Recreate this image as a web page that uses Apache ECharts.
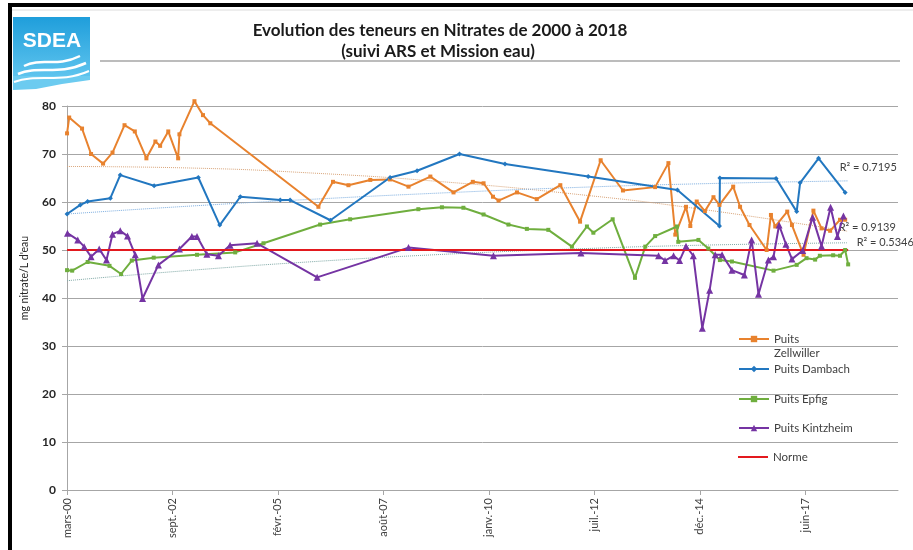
<!DOCTYPE html>
<html>
<head>
<meta charset="utf-8">
<script src="https://cdn.jsdelivr.net/npm/echarts@6/dist/echarts.min.js"></script>
<style>
html, body { margin: 0; padding: 0; background: #fff; }
#chart { width: 913px; height: 550px; }
</style>
</head>
<body>
<div id="chart"></div>
<script>
// dates are decimal years
const zellwillerDates = [2000.22,2000.27,2000.57,2000.78,2001.06,2001.28,2001.56,2001.80,2002.07,2002.28,
  2002.39,2002.58,2002.81,2002.84,2003.19,2003.39,2003.56,2006.08,2006.42,2006.78,
  2007.29,2007.75,2008.18,2008.69,2009.23,2009.68,2009.93,2010.15,2010.28,2010.71,
  2011.17,2011.72,2012.18,2012.66,2013.18,2013.93,2014.24,2014.40,2014.65,2014.75,
  2014.90,2015.09,2015.29,2015.43,2015.75,2015.91,2016.13,2016.53,2016.63,2016.73,
  2017.01,2017.12,2017.39,2017.62,2017.81,2018.01,2018.24,2018.36];
const zellwillerValues = [74.3,77.6,75.3,70,68,70.3,76,74.7,69.1,72.6,
  71.7,74.7,69.1,74.1,81,78.1,76.4,59,64.2,63.5,
  64.6,64.7,63.2,65.3,62,64.2,63.9,61.1,60.3,62,
  60.6,63.5,55.9,68.7,62.4,63.1,68.1,53.2,59,55,
  60.1,58.1,61,59.4,63.2,59,55.2,50,57.3,54.9,
  58,55.2,49,58.2,54.5,54,56.3,56.3];

const dambachDates = [2000.22,2000.53,2000.70,2001.23,2001.46,2002.25,2003.28,2003.78,2004.26,2005.19,
  2005.42,2006.36,2007.75,2008.38,2009.37,2010.43,2012.37,2014.45,2015.43,2015.44,
  2016.75,2017.23,2017.31,2017.74,2018.36];
const dambachValues = [57.5,59.4,60.1,60.8,65.6,63.4,65.1,55.2,61.1,60.4,
  60.4,56.2,65.1,66.5,70,67.9,65.3,62.5,55,65,
  64.9,58,64,69.1,62];

const epfigDates = [2000.22,2000.34,2000.70,2001.21,2001.48,2001.73,2002.24,2003.25,2004.14,2004.80,
  2006.12,2006.82,2008.41,2008.96,2009.46,2009.93,2010.51,2010.94,2011.44,2011.99,
  2012.34,2012.49,2012.94,2013.46,2013.70,2013.93,2014.44,2014.47,2014.94,2015.17,
  2015.44,2015.72,2016.69,2017.23,2017.46,2017.66,2017.77,2018.08,2018.24,2018.36,
  2018.43];
const epfigValues = [45.8,45.7,47.5,46.7,45,47.8,48.4,49,49.5,51.4,
  55.3,56.4,58.5,58.9,58.8,57.4,55.3,54.4,54.2,50.7,
  54.9,53.6,56.4,44.2,50.7,52.9,54.9,51.7,52.1,50.3,
  47.9,47.6,45.7,46.9,48.3,48,48.8,48.9,48.8,50,
  47];

const kintzheimDates = [2000.23,2000.47,2000.62,2000.78,2000.97,2001.14,2001.28,2001.46,2001.63,2001.81,
  2001.98,2002.35,2002.84,2003.13,2003.25,2003.48,2003.75,2004.02,2004.65,2006.05,
  2008.18,2010.16,2012.20,2014.01,2014.16,2014.36,2014.50,2014.65,2014.82,2015.03,
  2015.20,2015.33,2015.49,2015.72,2016.01,2016.18,2016.34,2016.57,2016.69,2016.82,
  2016.98,2017.12,2017.37,2017.60,2017.81,2018.02,2018.18,2018.32];
const kintzheimValues = [53.5,52.1,50.7,48.6,50.2,47.9,53.3,54,52.9,49,
  39.9,46.9,50.2,52.8,52.8,49.1,48.8,51,51.4,44.3,
  50.5,48.8,49.4,48.8,47.8,48.8,47.8,50.8,48.8,33.7,
  41.6,49,49,45.8,44.8,52.1,40.8,47.9,48.6,55.2,
  51.2,48.1,49.9,56.8,50.8,58.9,52.8,57.1];

const normeDates = [2000.22, 2018.43];
const normeValues = [50, 50];

// polynomial trend curves as drawn in the picture
const trendDates = [2000.22, 2003, 2006, 2009, 2012, 2015, 2018.42];
const zellwillerTrend = [67.4, 67.1, 66.0, 64.2, 61.7, 58.5, 53.9];
const dambachTrend = [57.5, 59.1, 60.6, 61.9, 63.0, 63.8, 64.4];
const epfigTrend = [43.6, 45.7, 47.6, 49.1, 50.2, 51.0, 51.5];

const xTickLabels = ['mars-00', 'sept.-02', 'févr.-05', 'août-07', 'janv.-10', 'juil.-12', 'déc.-14', 'juin-17'];

const START_YEAR = 2000.219; // 21 mars 2000
const TICK_DAYS = 898;
const toDays = y => (y - START_YEAR) * 365.25;
const pairs = (dates, values) => dates.map((d, i) => [toDays(d), values[i]]);

const FONT = 'Lato';
const TEXT = '#404040';

const mainSeries = (name, dates, values, color, symbol, size) => ({
  name: name,
  type: 'line',
  data: pairs(dates, values),
  symbol: symbol,
  symbolSize: size,
  clip: false,
  lineStyle: { color: color, width: 2 },
  itemStyle: { color: color },
  z: 3
});

const trendSeries = (dates, values, color, label, offset) => ({
  type: 'line',
  data: pairs(dates, values),
  smooth: true,
  symbol: 'none',
  silent: true,
  lineStyle: { color: color, width: 1, type: 'dotted' },
  endLabel: { show: true, formatter: label, color: TEXT, fontFamily: FONT, fontSize: 11, distance: 0, offset: offset },
  z: 2
});

const legendItem = (name, top, text, icon, h) => ({
  left: 738,
  top: top,
  padding: 0,
  data: [icon ? { name: name, icon: icon } : name],
  itemWidth: 30,
  itemHeight: h || 8,
  selectedMode: false,
  formatter: text,
  textStyle: { color: TEXT, fontFamily: FONT, fontSize: 11.5, lineHeight: 14 }
});

const colors = { orange: '#E8822E', blue: '#2277C0', green: '#6FAE3E', purple: '#7534A3', red: '#E3191E' };

const chart = echarts.init(document.getElementById('chart'));
chart.setOption({
  animation: false,
  backgroundColor: '#fff',
  grid: { left: 67, right: 15, top: 106, bottom: 60 },
  xAxis: {
    type: 'value',
    min: 0,
    max: 7076,
    interval: TICK_DAYS,
    axisLine: { lineStyle: { color: '#a6a6a6' } },
    axisTick: { show: true, length: 5, lineStyle: { color: '#a6a6a6' },
      customValues: xTickLabels.map((_, i) => i * TICK_DAYS) },
    axisLabel: { rotate: 90, color: TEXT, fontFamily: FONT, fontSize: 11, margin: 8,
      customValues: xTickLabels.map((_, i) => i * TICK_DAYS),
      formatter: v => xTickLabels[Math.round(v / TICK_DAYS)] },
    splitLine: { show: false }
  },
  yAxis: {
    type: 'value',
    min: 0,
    max: 80,
    interval: 10,
    name: "mg nitrate/L d'eau",
    nameLocation: 'middle',
    nameRotate: 90,
    nameGap: 37,
    nameTextStyle: { color: '#262626', fontFamily: FONT, fontSize: 10.5, padding: [0, 0, 0, 40] },
    axisLine: { show: true, lineStyle: { color: '#a6a6a6' } },
    axisTick: { show: true, length: 5, lineStyle: { color: '#a6a6a6' } },
    axisLabel: { color: '#262626', fontFamily: FONT, fontSize: 12, fontWeight: 'bold', margin: 11 },
    splitLine: { lineStyle: { color: '#a6a6a6' } }
  },
  legend: [
    legendItem('Puits Zellwiller', 318, ' \nPuits\nZellwiller'),
    legendItem('Puits Dambach', 362),
    legendItem('Puits Epfig', 392),
    legendItem('Puits Kintzheim', 421),
    legendItem('Norme', 450, null, 'rect', 2)
  ],
  series: [
    trendSeries(trendDates, zellwillerTrend, '#d9a57a', 'R² = 0.9139', [-9, -4]),
    trendSeries(trendDates, dambachTrend, '#7daee0', 'R² = 0.7195', [-8, -13]),
    trendSeries(trendDates, epfigTrend, '#7fa9a6', 'R² = 0.5346', [9, 0]),
    mainSeries('Puits Zellwiller', zellwillerDates, zellwillerValues, colors.orange, 'rect', 4),
    mainSeries('Puits Dambach', dambachDates, dambachValues, colors.blue, 'diamond', 5),
    mainSeries('Puits Epfig', epfigDates, epfigValues, colors.green, 'rect', 4),
    mainSeries('Puits Kintzheim', kintzheimDates, kintzheimValues, colors.purple, 'triangle', 7),
    mainSeries('Norme', normeDates, normeValues, colors.red, 'none', 0)
  ],
  graphic: [
    // frame
    { type: 'rect', shape: { x: 10, y: 5, width: 930, height: 570 }, style: { fill: 'none', stroke: '#000', lineWidth: 4 }, silent: true },
    { type: 'line', shape: { x1: 12, y1: 10, x2: 913, y2: 10 }, style: { stroke: '#dcdcdc', lineWidth: 1 }, silent: true },
    // logo
    { type: 'rect', shape: { x: 13, y: 17, width: 77, height: 60 },
      style: { fill: new echarts.graphic.LinearGradient(0, 0, 0, 1, [{ offset: 0, color: '#1f9edb' }, { offset: 1, color: '#5ec4ee' }]) }, silent: true },
    { type: 'polygon', shape: { points: [[13, 76], [90, 76], [90, 80], [62, 84], [36, 89], [13, 90]] },
      style: { fill: '#6ccbf0' }, silent: true },
    { type: 'bezierCurve', shape: { x1: 24, y1: 66, cpx1: 42, cpy1: 57, cpx2: 56, cpy2: 68, x2: 80, y2: 56 }, style: { stroke: '#fff', lineWidth: 2.5, fill: 'none' }, silent: true },
    { type: 'bezierCurve', shape: { x1: 18, y1: 74, cpx1: 38, cpy1: 65, cpx2: 58, cpy2: 76, x2: 86, y2: 63 }, style: { stroke: '#fff', lineWidth: 2.5, fill: 'none' }, silent: true },
    { type: 'bezierCurve', shape: { x1: 14, y1: 82, cpx1: 38, cpy1: 73, cpx2: 60, cpy2: 84, x2: 89, y2: 71 }, style: { stroke: '#fff', lineWidth: 2, fill: 'none' }, silent: true },
    { type: 'text', x: 52, y: 41, style: { text: 'SDEA', fill: '#fff', font: 'bold 21px "Liberation Sans"', textAlign: 'center', textVerticalAlign: 'middle' }, silent: true },
    // title
    { type: 'text', x: 440, y: 31, style: { text: 'Evolution des teneurs en Nitrates de 2000 à 2018', fill: '#1a1a1a', font: 'bold 17px Lato', textAlign: 'center', textVerticalAlign: 'middle' }, silent: true },
    { type: 'text', x: 438, y: 52, style: { text: '(suivi ARS et Mission eau)', fill: '#1a1a1a', font: 'bold 17px Lato', textAlign: 'center', textVerticalAlign: 'middle' }, silent: true },
    { type: 'line', shape: { x1: 100, y1: 61, x2: 900, y2: 61 }, style: { stroke: '#a6a6a6', lineWidth: 1.5 }, silent: true }
  ]
});
</script>
</body>
</html>
